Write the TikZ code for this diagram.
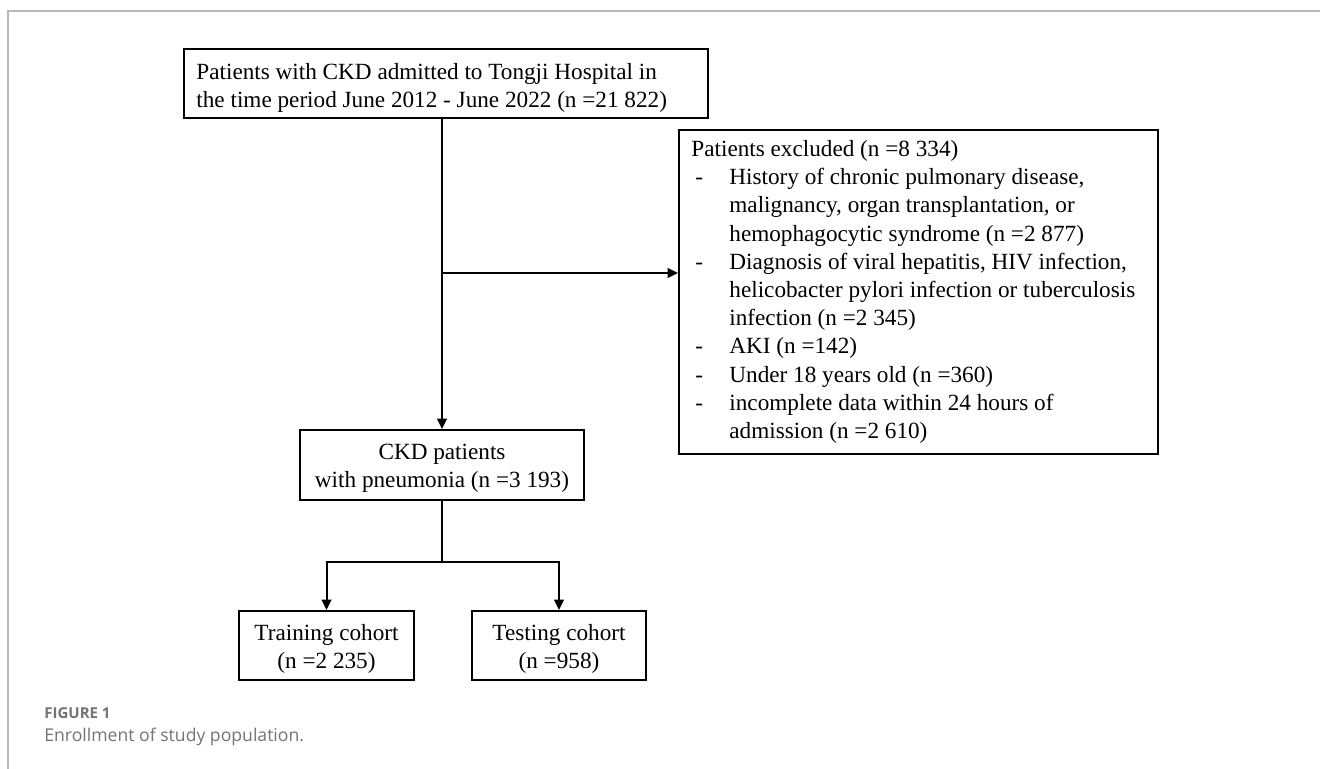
\documentclass[tikz,border=0pt]{standalone}
\usepackage{fontspec}
\setmainfont{Liberation Serif}
\newfontfamily\capfont{Open Sans}
\usetikzlibrary{arrows.meta}
\newcommand\exbul{\makebox[19pt][l]{\hspace*{2pt}-}}
\newcommand\exind{\hspace*{19pt}}
\begin{document}
\begin{tikzpicture}[x=0.5pt,y=-0.5pt,
  txt/.style={font=\fontsize{11.6pt}{14.1pt}\selectfont, inner sep=0pt},
  box/.style={draw=black, line width=1pt, inner sep=0pt},
  link/.style={line width=1pt, -{Triangle[length=5.2pt,width=4.8pt]}},
  plain/.style={line width=1pt},
  frame/.style={draw=black!28, line width=0.7pt}]
\useasboundingbox (0,0) rectangle (1320,769);
\draw[frame] (8,769) -- (8,11) -- (1320,11);

% boxes
\node[box, minimum width=262pt, minimum height=34.5pt] (top) at (446,84) {};
\node[box, minimum width=239.5pt, minimum height=162pt] (excl) at (918.5,292) {};
\node[box, minimum width=142pt, minimum height=35pt] (ckd) at (442,465) {};
\node[box, minimum width=87.5pt, minimum height=34.5pt] (train) at (326.5,645.5) {};
\node[box, minimum width=87pt, minimum height=34.5pt] (test) at (559,645.5) {};

% texts
\node[txt, anchor=west, align=left] (toptxt) at ([xshift=6.5pt,yshift=-1.8pt]top.west)
  {Patients with CKD admitted to Tongji Hospital in\\
   the time period June 2012 - June 2022 (n =21 822)};
\node[txt, anchor=west, align=left] (excltxt) at ([xshift=6.5pt]excl.west)
  {Patients excluded (n =8 334)\\
   \exbul History of chronic pulmonary disease,\\
   \exind malignancy, organ transplantation, or\\
   \exind hemophagocytic syndrome (n =2 877)\\
   \exbul Diagnosis of viral hepatitis, HIV infection,\\
   \exind helicobacter pylori infection or tuberculosis\\
   \exind infection (n =2 345)\\
   \exbul AKI (n =142)\\
   \exbul Under 18 years old (n =360)\\
   \exbul incomplete data within 24 hours of\\
   \exind admission (n =2 610)};
\node[txt, align=center] (ckdtxt) at ([yshift=-1.8pt]ckd.center)
  {CKD patients\\ with pneumonia (n =3 193)};
\node[txt, align=center] (traintxt) at ([yshift=-1.8pt]train.center)
  {Training cohort\\ (n =2 235)};
\node[txt, align=center] (testtxt) at ([yshift=-1.8pt]test.center)
  {Testing cohort\\ (n =958)};

% connectors
\draw[link] (top.south -| ckd.north) -- (ckd.north);
\coordinate (j) at (442,273);
\draw[link] (j) -- (j -| excl.west);
\coordinate (b) at (442,562);
\draw[plain] (ckd.south) -- (b);
\draw[link] (b) -| (train.north);
\draw[link] (b) -| (test.north);

% caption
\node[anchor=west, inner sep=0pt, font=\capfont\bfseries\fontsize{7.5pt}{9pt}\selectfont,
  text=black!55] (fig) at (44,713) {FIGURE 1};
\node[anchor=west, inner sep=0pt, font=\capfont\fontsize{8.8pt}{10pt}\selectfont,
  text=black!55] (cap) at (44,737) {Enrollment of study population.};
\end{tikzpicture}
\end{document}
